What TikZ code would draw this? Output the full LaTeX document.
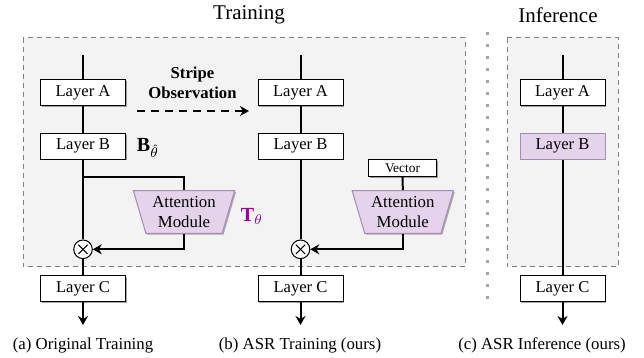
\documentclass[tikz,border=0pt]{standalone}
\usepackage{fontspec}
\setmainfont{Liberation Serif}
\usetikzlibrary{shapes.geometric,shadows,arrows.meta,calc}
\definecolor{panelbg}{HTML}{F3F3F3}
\definecolor{lilac}{HTML}{E4D3EA}
\definecolor{lilacdraw}{HTML}{A58BB5}
\definecolor{tpurple}{HTML}{990099}
\tikzset{
  layerbox/.style={draw=black, line width=0.5pt, fill=white, minimum width=42.5pt, minimum height=12.85pt, inner sep=0pt, font=\fontsize{8.3}{9}\selectfont,
    drop shadow={shadow xshift=0.7pt, shadow yshift=-0.7pt, fill=black, opacity=0.35}},
  purplebox/.style={layerbox, fill=lilac, draw=lilacdraw},
  vecbox/.style={layerbox, minimum width=34.2pt, minimum height=8.7pt, font=\fontsize{6.7}{7}\selectfont},
  attbox/.style={trapezium, shape border rotate=180, trapezium stretches=true, trapezium angle=71.6,
    minimum width=50.7pt, minimum height=21.3pt, inner sep=0pt, fill=lilac, draw=lilacdraw, line width=0.5pt,
    align=center, font=\fontsize{8.4}{10}\selectfont,
    drop shadow={shadow xshift=0.7pt, shadow yshift=-0.7pt, fill=black, opacity=0.3}},
  mult/.style={circle, draw=black, line width=0.5pt, fill=white, minimum size=9.3pt, inner sep=0pt},
  mainline/.style={line width=1pt},
  flowarrow/.style={line width=1pt, -{Stealth[length=4.5pt,width=5pt]}},
  panel/.style={draw=black!50, dash pattern=on 2.5pt off 2pt, line width=0.5pt, fill=panelbg},
  caption/.style={font=\fontsize{8.4}{10}\selectfont},
  title/.style={font=\fontsize{10.5}{12}\selectfont},
  mathlab/.style={inner sep=0pt},
}
\begin{document}
\begin{tikzpicture}[x=0.5pt,y=-0.5pt]
\useasboundingbox (0,0) rectangle (644,358);
% panels
\draw[panel] (23,38) rectangle (465,267);
\draw[panel] (507,38) rectangle (618,267);
\draw[black!35, line width=1.5pt, dash pattern=on 1.5pt off 4.5pt] (487,32) -- (487,306);
% titles
\node[title] (ttrain) at (249,15) {Training};
\node[title] (tinfer) at (558,15) {Inference};

% ---------- column (a)
\coordinate (atop) at (83,55);
\node[layerbox] (aA) at (83,92.8) {Layer A};
\node[layerbox] (aB) at (83,146.2) {Layer B};
\coordinate (asplit) at (83,177.3);
\node[attbox] (aatt) at (184,212) {Attention\\Module};
\node[mult] (am) at (83,249.3) {};
\node[layerbox] (aC) at (83,288.8) {Layer C};
\coordinate (aend) at (83,325);
\draw[mainline] (atop) -- (aA);
\draw[mainline] (aA) -- (aB);
\draw[mainline] (aB) -- (am);
\draw[mainline] (am) -- (aC);
\draw[flowarrow] (aC) -- (aend);
\draw[mainline] (asplit) -| (aatt.north);
\draw[flowarrow] (aatt.south) |- (am.east);
\draw[line width=0.5pt] ($(am)+(-4.6,-4.6)$) -- ($(am)+(4.6,4.6)$);
\draw[line width=0.5pt] ($(am)+(-4.6,4.6)$) -- ($(am)+(4.6,-4.6)$);
\node[mathlab] (Blab) at (148,148) {$\mathbf{B}_{\hat{\theta}}$};
\node[mathlab, text=tpurple] (Tlab) at (252,216) {$\mathbf{T}_{\theta}$};
\node[caption] (capa) at (83,345) {(a) Original Training};

% ---------- stripe observation
\node[font=\fontsize{8.35}{10}\selectfont\bfseries, align=center] (stripe) at (192.5,83) {Stripe\\Observation};
\coordinate (sA) at (137,111);
\coordinate (sB) at (249,111);
\draw[line width=1pt, dash pattern=on 4pt off 3pt, -{Stealth[length=4.5pt,width=5pt]}] (sA) -- (sB);

% ---------- column (b)
\coordinate (btop) at (300.5,55);
\node[layerbox] (bA) at (300.5,92.8) {Layer A};
\node[layerbox] (bB) at (300.5,146.2) {Layer B};
\node[vecbox] (bvec) at (402.5,168) {Vector};
\node[attbox] (batt) at (402.8,212) {Attention\\Module};
\node[mult] (bm) at (300.5,249.3) {};
\node[layerbox] (bC) at (300.5,288.8) {Layer C};
\coordinate (bend) at (300.5,325);
\draw[mainline] (btop) -- (bA);
\draw[mainline] (bA) -- (bB);
\draw[mainline] (bB) -- (bm);
\draw[mainline] (bm) -- (bC);
\draw[flowarrow] (bC) -- (bend);
\draw[mainline] (bvec) -- (batt.north);
\draw[flowarrow] (batt.south) |- (bm.east);
\draw[line width=0.5pt] ($(bm)+(-4.6,-4.6)$) -- ($(bm)+(4.6,4.6)$);
\draw[line width=0.5pt] ($(bm)+(-4.6,4.6)$) -- ($(bm)+(4.6,-4.6)$);
\node[caption] (capb) at (300,345) {(b) ASR Training (ours)};

% ---------- column (c)
\coordinate (ctop) at (562.5,55);
\node[layerbox] (cA) at (562.5,92.8) {Layer A};
\node[purplebox] (cB) at (562.5,146.2) {Layer B};
\node[layerbox] (cC) at (562.5,288.8) {Layer C};
\coordinate (cend) at (562.5,325);
\draw[mainline] (ctop) -- (cA);
\draw[mainline] (cA) -- (cB);
\draw[mainline] (cB) -- (cC);
\draw[flowarrow] (cC) -- (cend);
\node[caption] (capc) at (542,345) {(c) ASR Inference (ours)};
\end{tikzpicture}
\end{document}
